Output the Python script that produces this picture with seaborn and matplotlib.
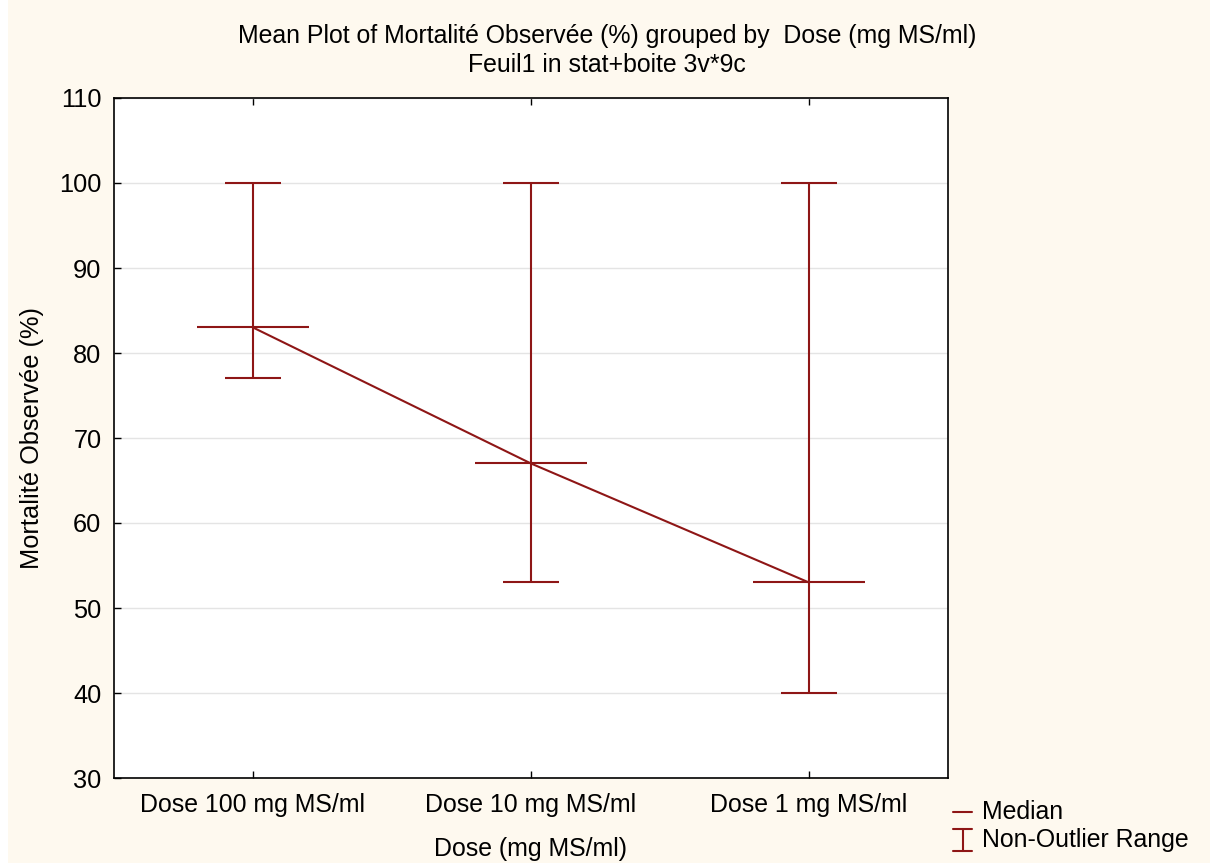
import matplotlib
matplotlib.use("Agg")
import matplotlib.pyplot as plt
from matplotlib.lines import Line2D
from matplotlib.patches import Rectangle
import seaborn as sns
import pandas as pd

categories = ["Dose 100 mg MS/ml", "Dose 10 mg MS/ml", "Dose 1 mg MS/ml"]
medians = [83, 67, 53]
range_low = [77, 53, 40]
range_high = [100, 100, 100]
y_ticks = [30, 40, 50, 60, 70, 80, 90, 100, 110]

sns.set_theme(style="white")
plt.rcParams["font.family"] = ["Liberation Sans", "DejaVu Sans"]

RED = "#8E1616"
BG = "#FEF9EF"
FS = 17.9

W, H = 1210, 863
fig = plt.figure(figsize=(12.1, 8.63), dpi=100, facecolor=BG)
# thin white strip at the left edge
fig.add_artist(Rectangle((0, 0), 8 / W, 1, transform=fig.transFigure, color="white", lw=0, zorder=-10))

ax = fig.add_axes([114 / W, 1 - 778 / H, (948 - 114) / W, (778 - 98) / H])
ax.set_facecolor("white")

df = pd.DataFrame({"Dose": categories, "Median": medians})
sns.pointplot(data=df, x="Dose", y="Median", order=categories, color=RED,
              errorbar=None, markers="", linestyles="-", linewidth=1.5, ax=ax)

xs = list(range(len(categories)))
ax.vlines(xs, range_low, range_high, color=RED, lw=1.5, zorder=3)
ax.hlines(range_low, [x - 0.1 for x in xs], [x + 0.1 for x in xs], color=RED, lw=1.5, zorder=3)
ax.hlines(range_high, [x - 0.1 for x in xs], [x + 0.1 for x in xs], color=RED, lw=1.5, zorder=3)
ax.hlines(medians, [x - 0.2 for x in xs], [x + 0.2 for x in xs], color=RED, lw=1.5, zorder=3)

ax.set_xlim(-0.5, 2.5)
ax.set_ylim(30, 110)
ax.set_yticks(y_ticks)
ax.set_yticklabels([str(t) for t in y_ticks])
ax.yaxis.grid(True, color="#E4E4E4", lw=1)
ax.xaxis.grid(False)
ax.set_axisbelow(True)
for s in ax.spines.values():
    s.set_visible(True)
    s.set_color("black")
    s.set_linewidth(1.2)
ax.tick_params(axis="both", direction="in", length=5, width=1, colors="black",
               labelsize=FS, labelcolor="black")
ax.tick_params(axis="x", top=True, bottom=True, pad=11)
ax.tick_params(axis="y", left=True, right=False, pad=9, labelsize=18.3)
ax.set_xlabel("Dose (mg MS/ml)", fontsize=FS, color="black", labelpad=14)
ax.set_ylabel("Mortalité Observée (%)", fontsize=18.3, color="black", labelpad=11)

fig.text(0.5015, 1 - 36 / H, "Mean Plot of Mortalité Observée (%) grouped by  Dose (mg MS/ml)",
         ha="center", va="center", fontsize=FS, color="black")
fig.text(0.5015, 1 - 65 / H, "Feuil1 in stat+boite 3v*9c",
         ha="center", va="center", fontsize=FS, color="black")

# legend
fig.add_artist(Line2D([953 / W, 972 / W], [1 - 812 / H, 1 - 812 / H], color=RED, lw=1.5))
fig.add_artist(Line2D([963 / W, 963 / W], [1 - 829 / H, 1 - 851 / H], color=RED, lw=1.5))
fig.add_artist(Line2D([953 / W, 972 / W], [1 - 829 / H, 1 - 829 / H], color=RED, lw=1.5))
fig.add_artist(Line2D([953 / W, 972 / W], [1 - 851 / H, 1 - 851 / H], color=RED, lw=1.5))
fig.text(982 / W, 1 - 812 / H, "Median", ha="left", va="center", fontsize=FS, color="black")
fig.text(982 / W, 1 - 840 / H, "Non-Outlier Range", ha="left", va="center", fontsize=FS, color="black")

fig.savefig("out.png", dpi=100, facecolor=BG)
